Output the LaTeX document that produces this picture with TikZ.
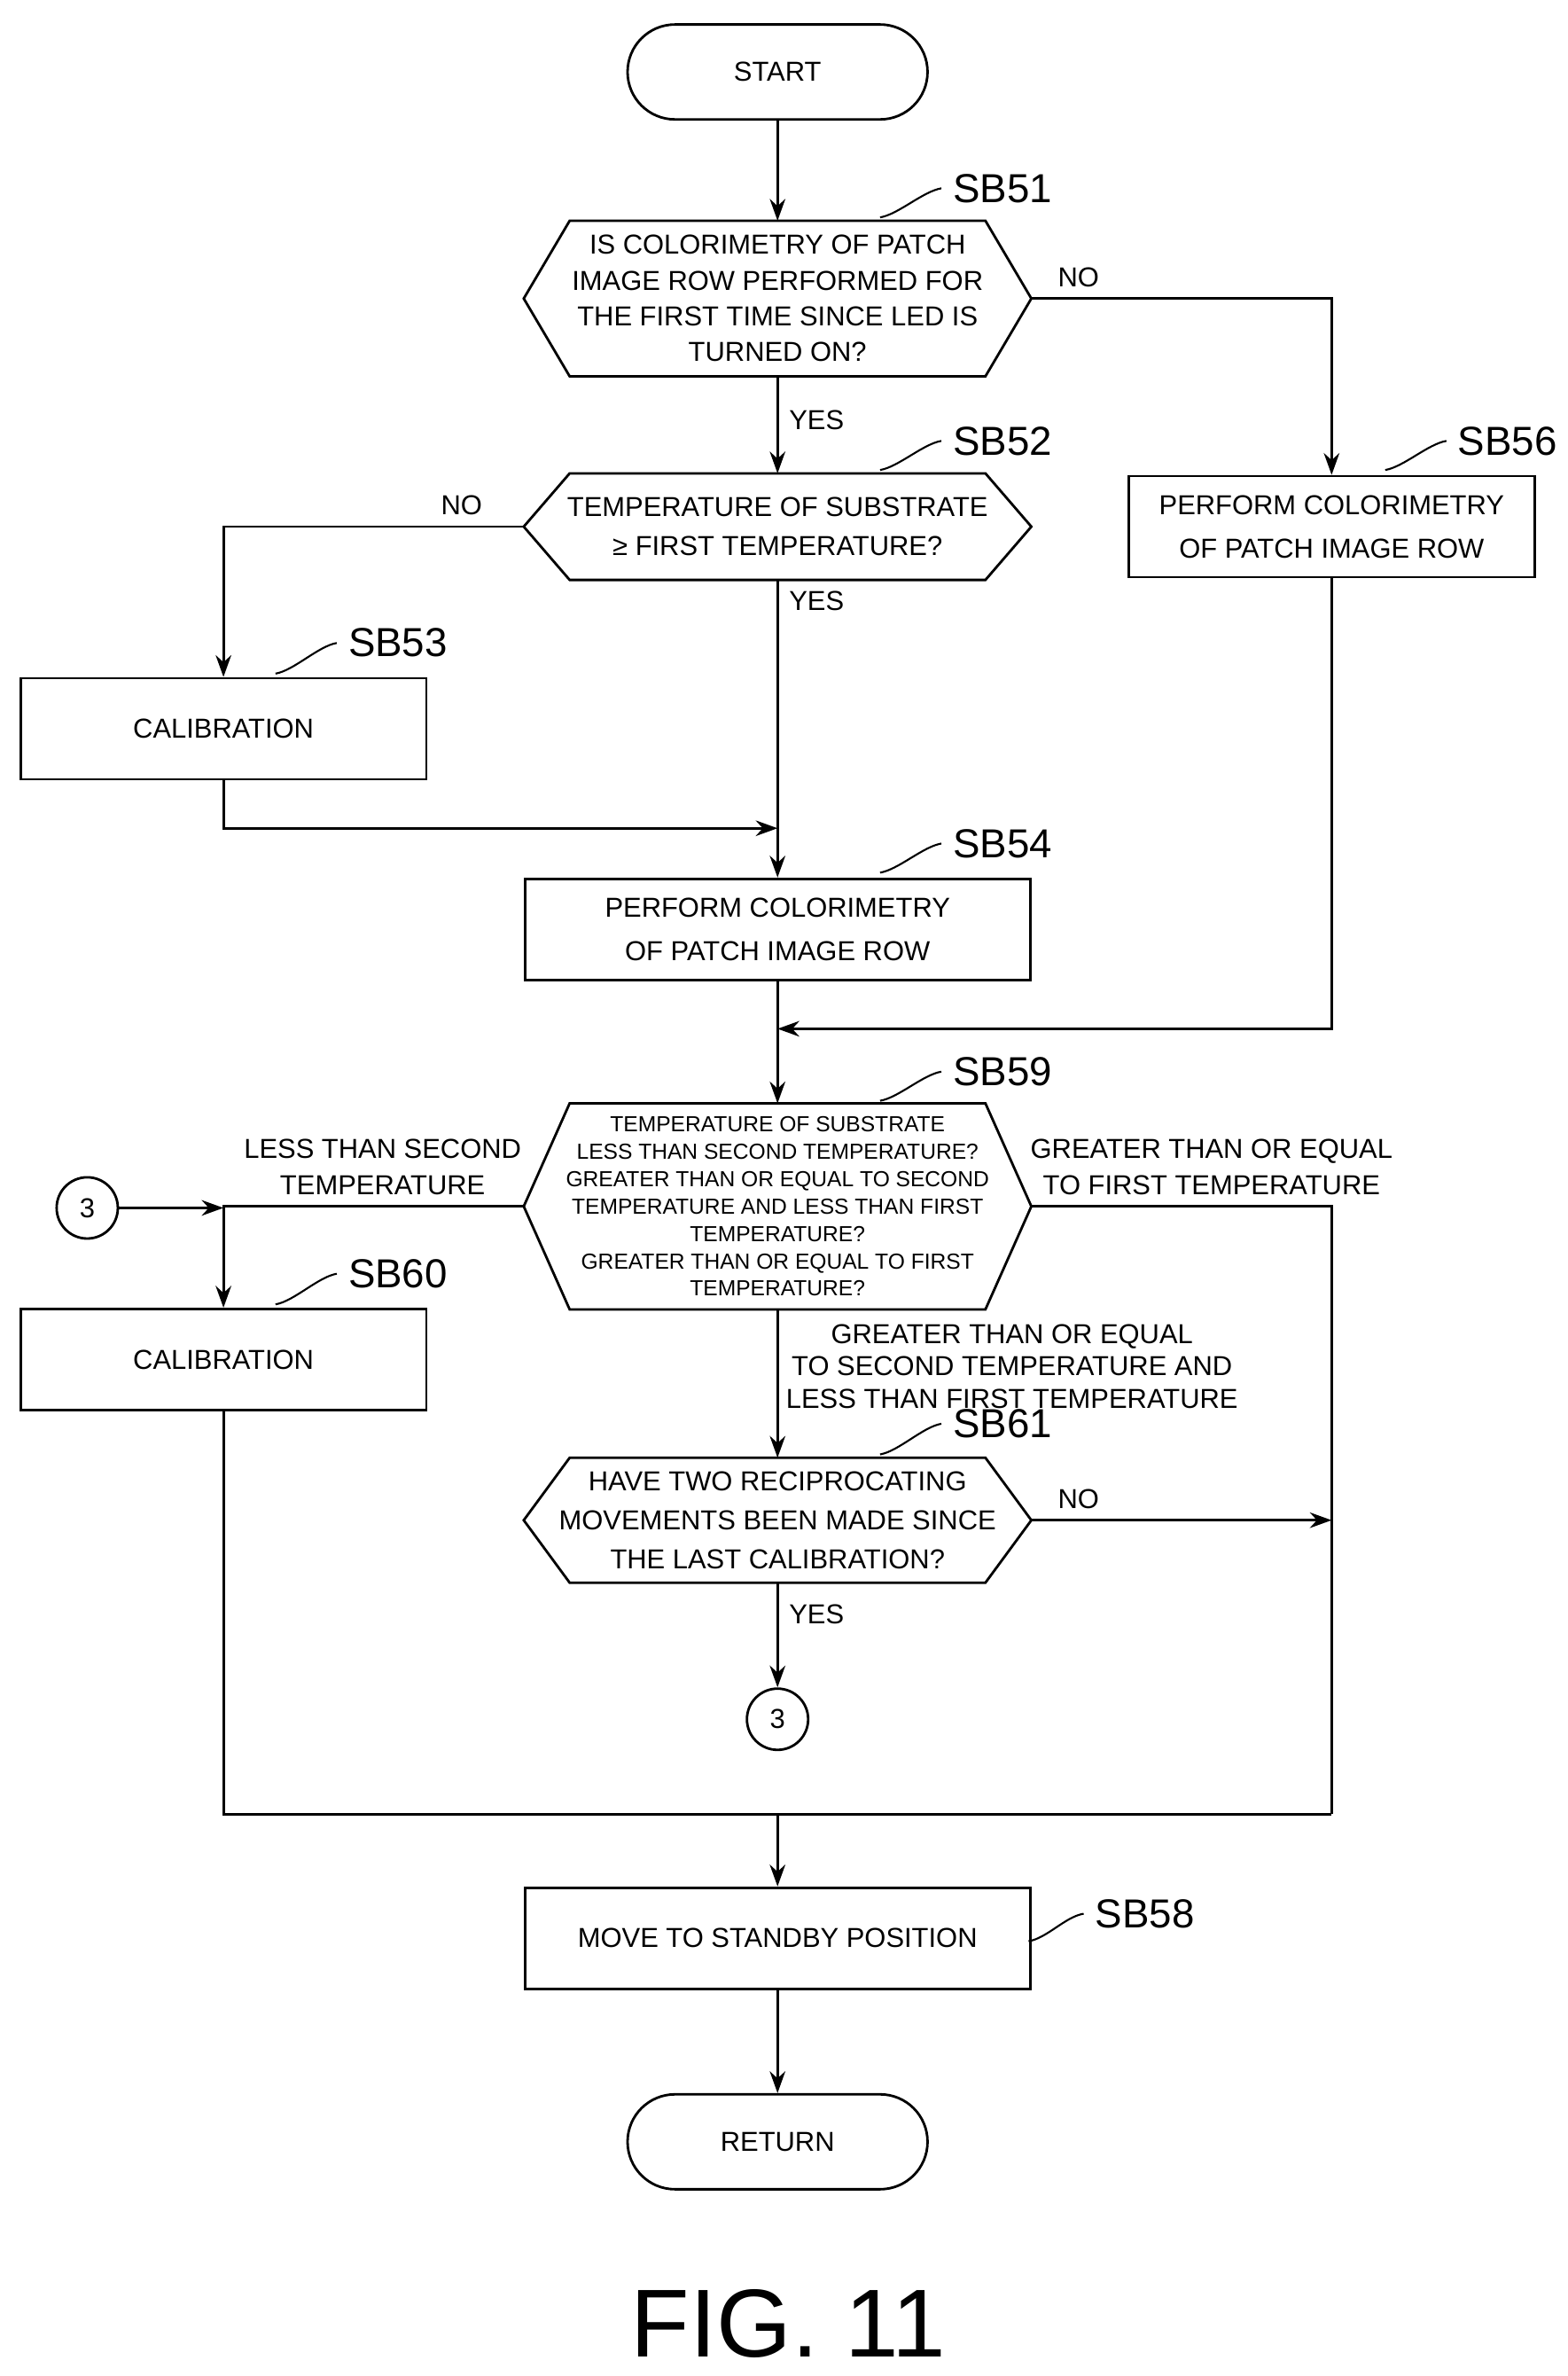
\documentclass[tikz,border=0pt]{standalone}
\usepackage{fontspec}
\setmainfont{Liberation Sans}
\usetikzlibrary{arrows.meta,positioning,calc}
\def\pxu{0.01727cm}
\begin{document}
\begin{tikzpicture}[x=0.01727cm,y=-0.01727cm,line width=0.8pt,>={Stealth[length=7pt,width=5pt]},
 font=\fontsize{8.8}{14}\selectfont]
 \tikzset{box/.style={draw, minimum width={265*\pxu}, minimum height={66*\pxu}, align=center, inner sep=1pt},
  term/.style={draw, rounded corners={31*\pxu}, minimum width={196*\pxu}, minimum height={62*\pxu}},
  dec/.style={minimum width={330*\pxu}, align=center, inner sep=0pt},
  stepno/.style={font=\fontsize{13}{15}\selectfont, anchor=west},
  lab/.style={font=\fontsize{8.8}{11.5}\selectfont, align=center},
  conn/.style={draw, circle, minimum size={40*\pxu}, inner sep=0pt}}
 \newcommand\hexa[1]{\draw ($(#1.west)$) -- ([xshift={30*\pxu}]#1.north west) -- ([xshift={-30*\pxu}]#1.north east)
   -- (#1.east) -- ([xshift={-30*\pxu}]#1.south east) -- ([xshift={30*\pxu}]#1.south west) -- cycle;}
 \newcommand\lead[2]{\draw[line width=0.6pt] (#1) .. controls ++(12,-2) and ++(-12,2) .. (#2.west);}
 \useasboundingbox (0,0) rectangle (1024,1552);

 \node (start) [term] at (508,47) {START};
 \node (d51) [dec, minimum height={100*\pxu}, font=\fontsize{8.8}{11.5}\selectfont] at (508,195)
  {IS COLORIMETRY OF PATCH\\IMAGE ROW PERFORMED FOR\\THE FIRST TIME SINCE LED IS\\TURNED ON?};
 \hexa{d51}
 \node (d52) [dec, minimum height={68*\pxu}, font=\fontsize{8.8}{12.5}\selectfont] at (508,344)
  {TEMPERATURE OF SUBSTRATE\\≥ FIRST TEMPERATURE?};
 \hexa{d52}
 \node (b56) [box] at (870,344) {PERFORM COLORIMETRY\\OF PATCH IMAGE ROW};
 \node (b53) [box] at (146,476) {CALIBRATION};
 \node (b54) [box, minimum width={330*\pxu}] at (508,607) {PERFORM COLORIMETRY\\OF PATCH IMAGE ROW};
 \node (d59) [dec, minimum height={133*\pxu}, font=\fontsize{7}{8.8}\selectfont] at (508,788)
  {TEMPERATURE OF SUBSTRATE\\LESS THAN SECOND TEMPERATURE?\\GREATER THAN OR EQUAL TO SECOND\\TEMPERATURE AND LESS THAN FIRST\\TEMPERATURE?\\GREATER THAN OR EQUAL TO FIRST\\TEMPERATURE?};
 \hexa{d59}
 \node (b60) [box] at (146,888) {CALIBRATION};
 \node (d61) [dec, minimum height={80*\pxu}, font=\fontsize{8.8}{12.5}\selectfont] at (508,993)
  {HAVE TWO RECIPROCATING\\MOVEMENTS BEEN MADE SINCE\\THE LAST CALIBRATION?};
 \hexa{d61}
 \node (c3a) [conn] at (57,789) {3};
 \node (c3b) [conn] at (508,1123) {3};
 \node (b58) [box, minimum width={330*\pxu}] at (508,1266) {MOVE TO STANDBY POSITION};
 \node (ret) [term] at (508,1399) {RETURN};
 \node (fig) at (515,1518) {\fontsize{31}{33}\selectfont FIG. 11};

 % step labels
 \node (s51) [stepno] at (615,123) {SB51}; \lead{575,142}{s51}
 \node (s52) [stepno] at (615,288) {SB52}; \lead{575,307}{s52}
 \node (s56) [stepno] at (945,288) {SB56}; \lead{905,307}{s56}
 \node (s53) [stepno] at (220,420) {SB53}; \lead{180,440}{s53}
 \node (s54) [stepno] at (615,551) {SB54}; \lead{575,570}{s54}
 \node (s59) [stepno] at (615,700) {SB59}; \lead{575,719}{s59}
 \node (s60) [stepno] at (220,832) {SB60}; \lead{180,852}{s60}
 \node (s61) [stepno] at (615,930) {SB61}; \lead{575,950}{s61}
 \node (s58) [stepno] at (708,1250) {SB58}; \lead{672,1268}{s58}

 % flow
 \draw[->] (start) -- (d51);
 \draw[->] (d51) -- (d52) node [pos=0.45, right, lab] {YES};
 \draw[->] (d51.east) -- (870,195) node [pos=0.05, above right, lab] {NO} -- (b56);
 \draw[->] (d52.west) -- (146,344) node [pos=0.1, above left, lab] {NO} -- (b53);
 \draw[->] (d52) -- (b54) node [pos=0.07, right, lab] {YES};
 \draw[->] (b53) -- (146,541) -- (508,541);
 \draw[->] (b54) -- (d59);
 \draw[->] (b56) -- (870,672) -- (508,672);
 \draw[->] (d59.west) -- (146,788) node [pos=0.47, above, lab] {LESS THAN SECOND\\TEMPERATURE} -- (b60);
 \draw[->] (c3a) -- (146,789);
 \draw (d59.east) -- (870,788) node [pos=0.6, above, lab] {GREATER THAN OR EQUAL\\TO FIRST TEMPERATURE} -- (870,1185);
 \draw[->] (d59) -- (d61) node [pos=0.02, below right, lab, xshift={-2*\pxu}, font=\fontsize{8.8}{10.5}\selectfont] {GREATER THAN OR EQUAL\\TO SECOND TEMPERATURE AND\\LESS THAN FIRST TEMPERATURE};
 \draw[->] (d61.east) -- (870,993) node [pos=0.05, above right, lab] {NO};
 \draw[->] (d61) -- (c3b) node [pos=0.3, right, lab] {YES};
 \draw (b60) -- (146,1185) -- (870,1185);
 \draw[->] (508,1185) -- (b58);
 \draw[->] (b58) -- (ret);
\end{tikzpicture}
\end{document}
